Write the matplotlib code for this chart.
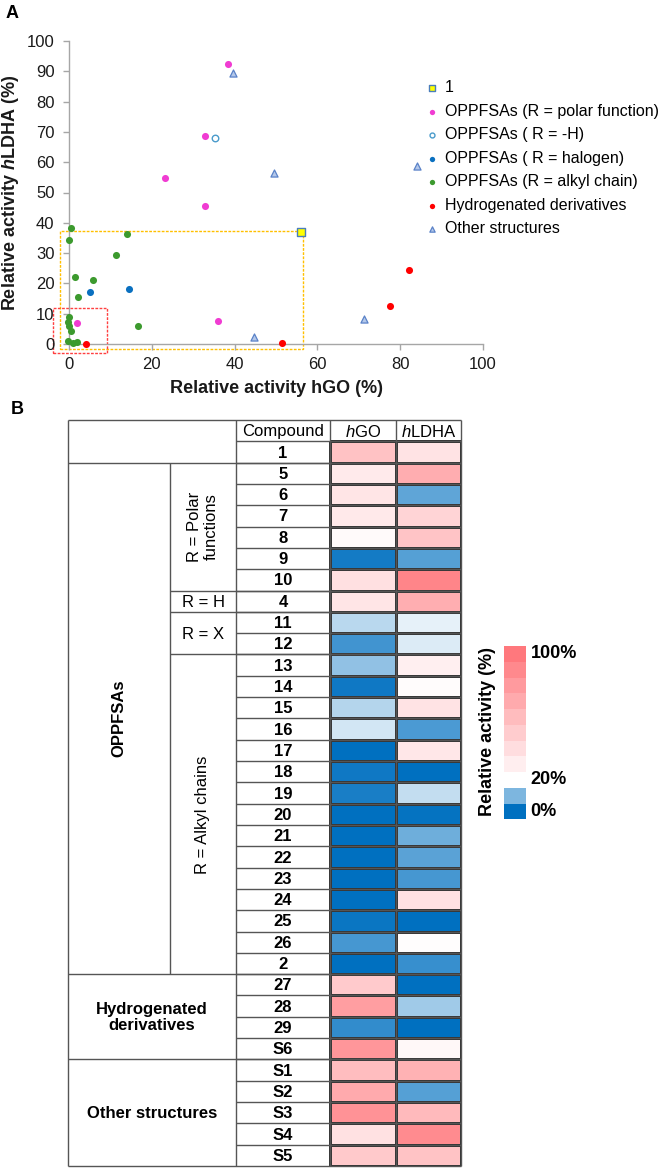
import matplotlib
matplotlib.use('Agg')
import matplotlib.pyplot as plt
from matplotlib.colors import LinearSegmentedColormap, Normalize
from matplotlib.patches import Rectangle
import numpy as np

plt.rcParams['font.family'] = ['Liberation Sans', 'DejaVu Sans']
plt.rcParams['mathtext.fontset'] = 'custom'
plt.rcParams['mathtext.rm'] = 'Liberation Sans'
plt.rcParams['mathtext.it'] = 'Liberation Sans:italic'
plt.rcParams['mathtext.bf'] = 'Liberation Sans:bold'
plt.rcParams['mathtext.bfit'] = 'Liberation Sans:italic:bold'

# ---------------- data: panel A (scatter) ----------------
cmpd1_x = [56.0]
cmpd1_y = [36.9]
polar_x = [38.3, 32.8, 23.2, 32.9, 35.9, 1.9]
polar_y = [92.5, 68.6, 54.8, 45.5, 7.6, 6.9]
hyd_H_x = [35.3]
hyd_H_y = [68.1]
halogen_x = [5.15, 14.5]
halogen_y = [17.2, 18.0]
alkyl_x = [0.6, 0.0, 14.1, 11.4, 1.45, 5.8, 2.1, 0.0, -0.3, 0.0, 0.5, 16.6, -0.2, 1.0, 1.9]
alkyl_y = [38.2, 34.2, 36.4, 29.4, 22.0, 21.1, 15.5, 8.8, 7.3, 5.8, 4.4, 5.8, 1.1, 0.4, 0.7]
hydro_x = [4.1, 51.4, 77.5, 82.1]
hydro_y = [0.1, 0.2, 12.6, 24.3]
other_x = [39.5, 49.5, 84.1, 71.2, 44.8]
other_y = [89.5, 56.4, 58.8, 8.4, 2.4]

series_labels = ['1', 'OPPFSAs (R = polar function)', 'OPPFSAs ( R = -H)',
                 'OPPFSAs ( R = halogen)', 'OPPFSAs (R = alkyl chain)',
                 'Hydrogenated derivatives', 'Other structures']
axis_ticks = [0, 10, 20, 30, 40, 50, 60, 70, 80, 90, 100]
x_ticks = [0, 20, 40, 60, 80, 100]

# ---------------- data: panel B (table heat map) ----------------
compounds = ['1', '5', '6', '7', '8', '9', '10', '4', '11', '12', '13', '14', '15',
             '16', '17', '18', '19', '20', '21', '22', '23', '24', '25', '26', '2',
             '27', '28', '29', 'S6', 'S1', 'S2', 'S3', 'S4', 'S5']
hGO_vals = [56.0, 32.8, 35.9, 32.9, 23.2, 1.9, 38.3, 35.3, 14.5, 5.2, 11.4, 1.5, 14.1,
            16.6, 0.0, 1.5, 2.1, 0.0, 0.0, 0.0, 0.0, 0.3, 1.0, 5.8, 0.3,
            51.4, 77.5, 4.1, 82.1, 59.0, 70.0, 84.0, 38.0, 52.0]
hLDHA_vals = [36.9, 68.6, 7.6, 45.5, 54.8, 6.9, 92.5, 68.1, 18.0, 17.2, 29.4, 22.0, 36.4,
              5.9, 34.2, 0.2, 15.5, 0.5, 8.8, 7.3, 5.8, 38.2, 0.1, 21.1, 4.4,
              0.2, 12.6, 0.1, 24.3, 66.0, 7.0, 61.0, 89.0, 55.6]
scale_levels = [0, 10, 20, 30, 40, 50, 60, 70, 80, 90, 100]

# ---------------- figure ----------------
W, H = 661, 1170
fig = plt.figure(figsize=(W / 100, H / 100), dpi=100)

def fx(px):
    return px / W

def fy(py):
    return 1 - py / H

# ---------------- Panel A ----------------
axA = fig.add_axes([fx(69), fy(344), fx(483) - fx(69), fy(41) - fy(344)])
axA.set_xlim(0, 100)
axA.set_ylim(0, 100)
for s in ['top', 'right']:
    axA.spines[s].set_visible(False)
for s in ['left', 'bottom']:
    axA.spines[s].set_color('#A6A6A6')
    axA.spines[s].set_linewidth(1.0)
axA.set_xticks(x_ticks)
axA.set_yticks(axis_ticks)
axA.tick_params(axis='both', colors='#A6A6A6', labelcolor='#1a1a1a', labelsize=12,
                length=4.5, width=1.0, direction='out')
axA.tick_params(axis='y', pad=6)
axA.tick_params(axis='x', pad=5)

# dashed highlight rectangles
axA.add_patch(Rectangle((-2.2, -1.5), 58.8, 38.8, fill=False, ls=(0, (2, 1)),
                        ec='#FFC000', lw=1.0, clip_on=False, zorder=1))
axA.add_patch(Rectangle((-3.8, -3.1), 12.9, 14.9, fill=False, ls=(0, (2, 1)),
                        ec='#FF4040', lw=1.0, clip_on=False, zorder=1))

kw = dict(clip_on=False, zorder=3)
h1 = axA.scatter(cmpd1_x, cmpd1_y, marker='s', s=36, facecolor='#FFFF00',
                 edgecolor='#4A7EBB', lw=1.0, label=series_labels[0], **kw)
h2 = axA.scatter(polar_x, polar_y, marker='o', s=26, color='#F03CD2', lw=0,
                 label=series_labels[1], **kw)
h3 = axA.scatter(hyd_H_x, hyd_H_y, marker='o', s=22, facecolor='white',
                 edgecolor='#4A9BCB', lw=1.0, label=series_labels[2], **kw)
h4 = axA.scatter(halogen_x, halogen_y, marker='o', s=26, color='#0A70C0', lw=0,
                 label=series_labels[3], **kw)
h5 = axA.scatter(alkyl_x, alkyl_y, marker='o', s=26, color='#3C9A2E', lw=0,
                 label=series_labels[4], **kw)
h6 = axA.scatter(hydro_x, hydro_y, marker='o', s=26, color='#FF0000', lw=0,
                 label=series_labels[5], **kw)
h7 = axA.scatter(other_x, other_y, marker='^', s=26, facecolor='#B4C8EA',
                 edgecolor='#5A82C8', lw=0.9, label=series_labels[6], **kw)

fig.legend(handles=[h1, h2, h3, h4, h5, h6, h7], loc='upper left',
           bbox_to_anchor=(fx(425.6), fy(80.5)), frameon=False, fontsize=11.5,
           borderpad=0, borderaxespad=0, handlelength=0.8, handletextpad=0.4,
           labelspacing=0.53, markerscale=0.75, scatterpoints=1)

fig.text(fx(276), fy(389), 'Relative activity hGO (%)', ha='center', va='center',
         fontsize=13, fontweight='bold', color='#1a1a1a')
fig.text(fx(11), fy(192.5), r'Relative activity $\mathbfit{h}$LDHA (%)', ha='center',
         va='center', rotation=90, fontsize=13, fontweight='bold', color='#1a1a1a')
fig.text(fx(6), fy(13), 'A', ha='left', va='center', fontsize=13, fontweight='bold')
fig.text(fx(11), fy(410), 'B', ha='left', va='center', fontsize=13, fontweight='bold')

# ---------------- Panel B ----------------
col_edges = [68.3, 170, 236, 330, 395.7, 461]
nrows = len(compounds) + 1
tax = fig.add_axes([fx(col_edges[0]), fy(1166), fx(col_edges[-1]) - fx(col_edges[0]),
                    fy(420) - fy(1166)])
tax.set_xlim(col_edges[0], col_edges[-1])
tax.set_ylim(nrows, 0)
tax.axis('off')

cmap = LinearSegmentedColormap.from_list(
    'relact', [(0.0, '#0070C0'), (0.2, '#FFFFFF'), (1.0, '#FF787D')])
norm = Normalize(0, 100)

vals = np.array([hGO_vals, hLDHA_vals]).T
tax.pcolormesh(col_edges[3:], np.arange(1, nrows + 1), vals, cmap=cmap, norm=norm,
               edgecolors='#333333', linewidth=1.0)

lc = '#555555'
lw = 1.0
def hline(y, x0, x1):
    tax.plot([x0, x1], [y, y], color=lc, lw=lw, clip_on=False, solid_capstyle='butt')
def vline(x, y0, y1):
    tax.plot([x, x], [y0, y1], color=lc, lw=lw, clip_on=False, solid_capstyle='butt')

hline(0, col_edges[0], col_edges[-1])
hline(nrows, col_edges[0], col_edges[-1])
for r in range(1, nrows):
    hline(r, col_edges[2], col_edges[-1])
for r in [2, 26, 30]:
    hline(r, col_edges[0], col_edges[-1])
for r in [8, 9, 11]:
    hline(r, col_edges[1], col_edges[-1])
vline(col_edges[0], 0, nrows)
vline(col_edges[1], 2, 26)
for x in col_edges[2:]:
    vline(x, 0, nrows)

cx = (col_edges[2] + col_edges[3]) / 2
for i, c in enumerate(compounds):
    tax.text(cx, i + 1.55, c, ha='center', va='center', fontsize=12, fontweight='bold')
tax.text(cx, 0.55, 'Compound', ha='center', va='center', fontsize=12)
tax.text((col_edges[3] + col_edges[4]) / 2, 0.55, r'$\mathit{h}$GO', ha='center',
         va='center', fontsize=12)
tax.text((col_edges[4] + col_edges[5]) / 2, 0.55, r'$\mathit{h}$LDHA', ha='center',
         va='center', fontsize=12)

c0 = (col_edges[0] + col_edges[1]) / 2
c1 = (col_edges[1] + col_edges[2]) / 2
c01 = (col_edges[0] + col_edges[2]) / 2
tax.text(c0, 14, 'OPPFSAs', rotation=90, ha='center', va='center', fontsize=12,
         fontweight='bold')
tax.text(c1, 5, 'R = Polar\nfunctions', rotation=90, ha='center', va='center',
         fontsize=12, multialignment='center', linespacing=1.1)
tax.text(c1, 8.55, 'R = H', ha='center', va='center', fontsize=12)
tax.text(c1, 10.05, 'R = X', ha='center', va='center', fontsize=12)
tax.text(c1, 18.5, 'R = Alkyl chains', rotation=90, ha='center', va='center', fontsize=12)
tax.text(c01, 28.05, 'Hydrogenated\nderivatives', ha='center', va='center', fontsize=12,
         fontweight='bold', multialignment='center', linespacing=1.1)
tax.text(c01, 32.55, 'Other structures', ha='center', va='center', fontsize=12,
         fontweight='bold')

# ---------------- colour scale ----------------
cax = fig.add_axes([fx(504), fy(819.3), fx(526) - fx(504), fy(646) - fy(819.3)])
cax.pcolormesh([0, 1], np.arange(len(scale_levels) + 1),
               np.array(scale_levels, dtype=float)[:, None], cmap=cmap, norm=norm)
cax.set_xlim(0, 1)
cax.set_ylim(0, len(scale_levels))
cax.axis('off')
for lvl_idx, txt in [(len(scale_levels) - 1, '100%'), (2, '20%'), (0, '0%')]:
    cax.text(1.21, lvl_idx + 0.5, txt, ha='left', va='center', fontsize=13,
             fontweight='bold')
fig.text(fx(487), fy(732), 'Relative activity (%)', rotation=90, ha='center',
         va='center', fontsize=13, fontweight='bold')

fig.savefig('out.png', dpi=100)
